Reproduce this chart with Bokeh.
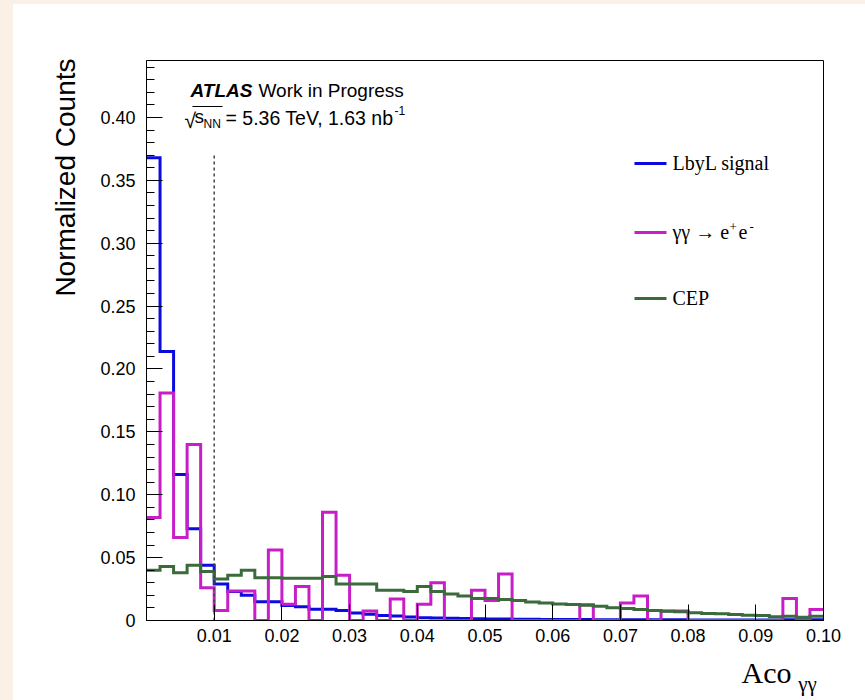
import numpy as np
from bokeh.plotting import figure
from bokeh.models import Range1d, FixedTicker, Label, LinearAxis, Title
from bokeh.embed import file_html
from bokeh.resources import INLINE

# ---------------- data ----------------
bin_width = 0.002
n_bins = 50

lbyl_signal = [0.368, 0.214, 0.116, 0.073, 0.044, 0.029, 0.023, 0.020, 0.015, 0.015,
               0.012, 0.011, 0.009, 0.009, 0.008, 0.006, 0.005, 0.004, 0.0035, 0.0028,
               0.0022, 0.0020, 0.0018, 0.0015, 0.0013, 0.0012, 0.0011, 0.0010, 0.0009, 0.0008,
               0.0008, 0.0007, 0.0007, 0.0006, 0.0006, 0.0006, 0.0005, 0.0005, 0.0005, 0.0005,
               0.0004, 0.0004, 0.0004, 0.0004, 0.0004, 0.0003, 0.0004, 0.0005, 0.0006, 0.0006]

gg_ee = [0.082, 0.181, 0.066, 0.140, 0.026, 0.008, 0.0235, 0.0235, 0.0, 0.056,
         0.013, 0.027, 0.0, 0.086, 0.036, 0.0, 0.0075, 0.0, 0.017, 0.0,
         0.013, 0.030, 0.0, 0.0, 0.024, 0.016, 0.037, 0.0, 0.0, 0.0,
         0.0, 0.0, 0.0125, 0.0, 0.0, 0.014, 0.0195, 0.0, 0.0075, 0.0075,
         0.0, 0.0, 0.0, 0.0, 0.0, 0.0, 0.0, 0.0175, 0.0, 0.0087]

cep = [0.040, 0.043, 0.038, 0.044, 0.039, 0.033, 0.036, 0.040, 0.034, 0.034,
       0.0335, 0.0335, 0.0335, 0.035, 0.029, 0.029, 0.029, 0.024, 0.024, 0.023,
       0.027, 0.023, 0.021, 0.0195, 0.0175, 0.0175, 0.0167, 0.0159, 0.0148, 0.014,
       0.0132, 0.0127, 0.0122, 0.0114, 0.0101, 0.0095, 0.0087, 0.0080, 0.0074, 0.0069,
       0.0061, 0.0056, 0.0053, 0.0048, 0.0042, 0.0040, 0.0030, 0.0034, 0.0026, 0.0034]

series_names = ["LbyL signal", "γγ → e", "CEP"]
series_colors = ["#0b0be0", "#c81ec8", "#3b6b3b"]

x_ticks = [0.01, 0.02, 0.03, 0.04, 0.05, 0.06, 0.07, 0.08, 0.09, 0.10]
x_tick_labels = ["0.01", "0.02", "0.03", "0.04", "0.05", "0.06", "0.07", "0.08", "0.09", "0.10"]
y_ticks = [0.0, 0.05, 0.10, 0.15, 0.20, 0.25, 0.30, 0.35, 0.40]
y_tick_labels = ["0", "0.05", "0.10", "0.15", "0.20", "0.25", "0.30", "0.35", "0.40"]
y_minor_step = 0.01

cut_value = 0.01
cut_height = 0.371

x_max = 0.10
y_max = 0.4453

# ---------------- figure ----------------
W, H = 865, 700
FRAME_L, FRAME_T, FRAME_W, FRAME_H = 146, 60, 677, 560

p = figure(width=W, height=H, output_backend="svg", toolbar_location=None,
           x_range=Range1d(0, x_max), y_range=Range1d(0, y_max),
           min_border_left=FRAME_L, min_border_right=W - FRAME_L - FRAME_W,
           min_border_top=FRAME_T, min_border_bottom=H - FRAME_T - FRAME_H,
           border_fill_color=None, background_fill_color="white",
           outline_line_color="black", outline_line_width=1)
p.xgrid.visible = False
p.ygrid.visible = False

edges = np.round(np.arange(n_bins + 1) * bin_width, 4)


def step_xy(values):
    xs = np.repeat(edges, 2)[1:-1]
    ys = np.repeat(np.asarray(values, dtype=float), 2)
    return xs, ys


for vals, col in zip([lbyl_signal, gg_ee, cep], series_colors):
    xs, ys = step_xy(vals)
    p.line(xs, ys, line_color=col, line_width=3, line_join="miter")

# cut line
p.segment(x0=[cut_value], y0=[0], x1=[cut_value], y1=[cut_height],
          line_color="#444444", line_width=1.5, line_dash="3 3")

# ---------------- axes ----------------
p.xaxis.ticker = FixedTicker(ticks=x_ticks)
p.xaxis.major_label_overrides = {t: l for t, l in zip(x_ticks, x_tick_labels)}
y_minor = [round(i * y_minor_step, 3) for i in range(int(y_max / y_minor_step) + 1)]
p.yaxis.ticker = FixedTicker(ticks=y_ticks, minor_ticks=y_minor)
p.yaxis.major_label_overrides = {t: l for t, l in zip(y_ticks, y_tick_labels)}

for ax in (p.xaxis[0], p.yaxis[0]):
    ax.axis_line_color = "black"
    ax.axis_line_width = 1
    ax.major_tick_line_color = "black"
    ax.major_tick_in = 16
    ax.major_tick_out = 0
    ax.major_label_text_font = "Liberation Sans"
    ax.major_label_text_font_size = "18px"
    ax.major_label_text_color = "black"
p.xaxis.minor_tick_line_color = None
p.yaxis.minor_tick_line_color = "black"
p.yaxis.minor_tick_in = 8
p.yaxis.minor_tick_out = 0
p.xaxis.major_label_standoff = 8
p.yaxis.major_label_standoff = 11


# ---------------- texts (positions in canvas pixels -> data) ----------------
def dx(px):
    return round((px - FRAME_L) / FRAME_W * x_max, 5)


def dy(py):
    return round((FRAME_T + FRAME_H - py) / FRAME_H * y_max, 5)


def txt(px, py, text, size, font="Liberation Sans", style="normal", align="left",
        baseline="middle"):
    p.add_layout(Label(x=dx(px), y=dy(py), text=text, text_font=font,
                       text_font_style=style, text_font_size=f"{size}px",
                       text_align=align, text_baseline=baseline,
                       text_color="black"))


# y axis title (ROOT style: aligned to the top of the axis)
p.add_layout(Title(text="Normalized Counts", align="right", offset=-2, standoff=34,
                   text_font="Liberation Sans", text_font_size="28px",
                   text_font_style="normal", text_color="black"), "left")


# x axis title "Aco" with subscript, drawn as labels of extra, line-less axes
def title_axis(pos, text, size, standoff):
    ax = LinearAxis(ticker=FixedTicker(ticks=[pos]), major_label_overrides={pos: text},
                    axis_line_color=None, major_tick_line_color=None,
                    minor_tick_line_color=None, major_tick_in=0, major_tick_out=0,
                    major_label_standoff=standoff,
                    major_label_text_font="Liberation Serif",
                    major_label_text_font_size=f"{size}px",
                    major_label_text_color="black")
    p.add_layout(ax, "below")


title_axis(dx(766), "Aco", 30, 11)
title_axis(dx(807), "γγ", 21, -20)

# ATLAS label
txt(190, 90, "ATLAS", 19, style="bold italic")
txt(258, 90, "Work in Progress", 19)
txt(184, 120, "√", 21)
txt(194, 116, "s", 19)
txt(203, 124, "NN", 12)
txt(225, 118, "= 5.36 TeV, 1.63 nb", 19.5)
txt(394, 110, "-1", 12)
p.segment(x0=[dx(192)], y0=[dy(106)], x1=[dx(222)], y1=[dy(106)],
          line_color="black", line_width=1)

# legend
leg_y = [163, 232, 298]
for name, col, yy in zip(series_names, series_colors, leg_y):
    p.segment(x0=[dx(634)], y0=[dy(yy)], x1=[dx(666)], y1=[dy(yy)],
              line_color=col, line_width=3)
    txt(672, yy, name, 20, font="Liberation Serif")
txt(729, 226, "+", 13, font="Liberation Serif")
txt(738, 232, "e", 20, font="Liberation Serif")
txt(749, 226, "-", 13, font="Liberation Serif")

html = file_html(p, INLINE)
style = ("<style>html{min-height:100%;background:"
         "linear-gradient(#fbf0e6,#fbf0e6) 0 0/100% 4px no-repeat,"
         "linear-gradient(#fbf0e6,#fbf0e6) 0 0/13px 100% no-repeat,#ffffff;}"
         "body{background:transparent;}</style></head>")
html = html.replace("</head>", style, 1)
open("out.html", "w").write(html)
